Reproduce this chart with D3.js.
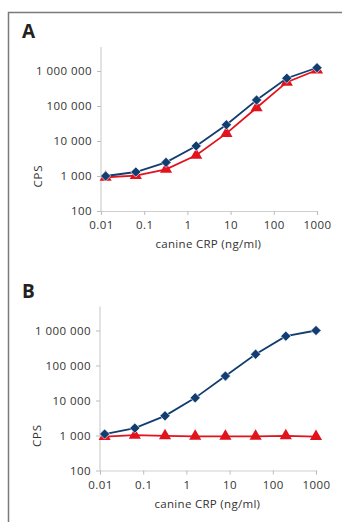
<!DOCTYPE html>
<html>
<head>
<meta charset="utf-8">
<script src="https://cdn.jsdelivr.net/npm/d3@7"></script>
<style>
  body { margin: 0; background: #fff; }
  svg { font-family: "Open Sans", "DejaVu Sans", sans-serif; }
</style>
</head>
<body>
<svg width="342" height="522"></svg>
<script>
// concentrations (ng/ml), 1:5 dilution series
var conc = [0.0128, 0.064, 0.32, 1.6, 8, 40, 200, 1000];
var panelA_blue = [1000, 1300, 2450, 7200, 29000, 148000, 620000, 1240000];
var panelA_red  = [920, 1030, 1550, 3900, 16500, 89000, 480000, 1070000];
var panelB_blue = [1100, 1630, 3650, 11900, 50000, 210000, 690000, 1000000];
var panelB_red  = [930, 1020, 980, 950, 950, 950, 980, 930];
var xTicks = [0.01, 0.1, 1, 10, 100, 1000];
var yTicks = [100, 1000, 10000, 100000, 1000000];

var blue = "#113d70", red = "#e3131e";
var fs = 11.5;

var svg = d3.select("svg");

// outer frame (top + left only)
svg.append("path")
  .attr("d", "M8.5,522 L8.5,12.5 L342,12.5")
  .attr("fill", "none")
  .attr("stroke", "#7a7a7a")
  .attr("stroke-width", 1.5);

function panel(label, top, left, blueVals, redVals) {
  var g = svg.append("g");
  var x = d3.scaleLog().domain([0.01, 1000]).range([left, left + 216]);
  var y = d3.scaleLog().domain([100, 1000000]).range([top + 164, top + 24]);

  g.append("text")
    .attr("x", 22).attr("y", top - 9)
    .attr("font-size", 19).attr("font-weight", "bold")
    .attr("fill", "#222")
    .text(label);

  // y axis
  var ya = g.append("g")
    .attr("transform", "translate(" + left + ",0)")
    .call(d3.axisLeft(y).tickValues(yTicks).tickSize(4).tickPadding(5)
      .tickFormat(function(d) { return d3.format(",")(d).replace(/,/g, " "); }));
  ya.select(".domain").attr("d", "M0," + (top + 164) + "V" + top);

  // x axis
  var xa = g.append("g")
    .attr("transform", "translate(0," + (top + 164) + ")")
    .call(d3.axisBottom(x).tickValues(xTicks).tickSize(4).tickPadding(6)
      .tickFormat(function(d) { return String(d); }));

  [ya, xa].forEach(function(a) {
    a.select(".domain").attr("stroke", "#cfcfcf").attr("stroke-width", 1.2);
    a.selectAll(".tick line").attr("stroke", "#bdbdbd");
    a.selectAll(".tick text").attr("font-size", fs).attr("fill", "#333")
      .attr("letter-spacing", "0.45px")
      .attr("font-family", "\"Open Sans\", \"DejaVu Sans\", sans-serif");
  });

  g.append("text")
    .attr("transform", "translate(" + (left - 59) + "," + y(1000) + ") rotate(-90)")
    .attr("text-anchor", "middle")
    .attr("font-size", fs).attr("fill", "#333")
    .attr("letter-spacing", "0.8px")
    .text("CPS");

  g.append("text")
    .attr("x", x(1) + 21).attr("y", top + 201)
    .attr("text-anchor", "middle")
    .attr("font-size", fs).attr("fill", "#333")
    .attr("letter-spacing", "0.3px")
    .text("canine CRP (ng/ml)");

  var line = d3.line()
    .x(function(d, i) { return x(conc[i]); })
    .y(function(d) { return y(d); });

  g.append("path").datum(redVals)
    .attr("d", line).attr("fill", "none")
    .attr("stroke", red).attr("stroke-width", 1.8);
  g.selectAll(".tri").data(redVals).enter().append("path")
    .attr("class", "tri")
    .attr("transform", function(d, i) { return "translate(" + x(conc[i]) + "," + y(d) + ")"; })
    .attr("d", d3.symbol().type(d3.symbolTriangle).size(64))
    .attr("fill", red);

  g.append("path").datum(blueVals)
    .attr("d", line).attr("fill", "none")
    .attr("stroke", blue).attr("stroke-width", 1.8);
  g.selectAll(".dia").data(blueVals).enter().append("path")
    .attr("class", "dia")
    .attr("transform", function(d, i) { return "translate(" + x(conc[i]) + "," + y(d) + ") rotate(45)"; })
    .attr("d", d3.symbol().type(d3.symbolSquare).size(52))
    .attr("fill", blue)
    .attr("stroke", "#fff").attr("stroke-width", 0.6);
}

panel("A", 47, 101, panelA_blue, panelA_red);
panel("B", 306.5, 100, panelB_blue, panelB_red);
</script>
</body>
</html>
